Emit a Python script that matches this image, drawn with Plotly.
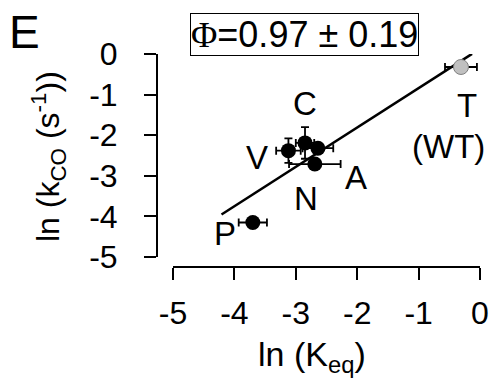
import plotly.graph_objects as go

# Data
labels = ["P", "V", "C", "A", "N"]
x_mut = [-3.70, -3.12, -2.85, -2.64, -2.69]
y_mut = [-4.15, -2.38, -2.19, -2.32, -2.71]
xerr_mut = [0.23, 0.20, 0.15, 0.25, 0.42]
yerr_mut = [0.05, 0.30, 0.39, 0.10, 0.12]

x_wt = [-0.31]
y_wt = [-0.32]
xerr_wt = [0.26]
yerr_wt = [0.05]

fit_slope = 0.97
fit_intercept = 0.13
fit_x = [-4.21, -0.13]
fit_y = [fit_slope * v + fit_intercept for v in fit_x]

tick_vals = [-5, -4, -3, -2, -1, 0]
tick_text = ["-5", "-4", "-3", "-2", "-1", "0"]

# label positions (data coords)
lab_text = ["P", "V", "C", "A", "N", "T", "(WT)"]
lab_x = [-4.15, -3.63, -2.85, -2.02, -2.83, -0.21, -0.52]
lab_y = [-4.41, -2.54, -1.21, -3.05, -3.55, -1.26, -2.29]

FONT = "Liberation Sans, Arial, sans-serif"

fig = go.Figure()
fig.add_trace(go.Scatter(
    x=fit_x, y=fit_y, mode="lines",
    line=dict(color="black", width=2.5), showlegend=False, hoverinfo="skip"))
fig.add_trace(go.Scatter(
    x=x_mut, y=y_mut, mode="markers",
    marker=dict(size=15, color="black"),
    error_x=dict(type="data", array=xerr_mut, color="black", thickness=1.8, width=4),
    error_y=dict(type="data", array=yerr_mut, color="black", thickness=1.8, width=4),
    showlegend=False))
fig.add_trace(go.Scatter(
    x=x_wt, y=y_wt, mode="markers",
    marker=dict(size=15, color="#c0c0c0", line=dict(color="#808080", width=1)),
    error_x=dict(type="data", array=xerr_wt, color="black", thickness=1.8, width=4),
    error_y=dict(type="data", array=yerr_wt, color="black", thickness=1.8, width=4),
    showlegend=False))

for t, lx, ly in zip(lab_text, lab_x, lab_y):
    fig.add_annotation(x=lx, y=ly, xref="x", yref="y", text=t, showarrow=False,
                       font=dict(family=FONT, size=33, color="black"),
                       xanchor="center", yanchor="middle")

W, H = 493, 383
ml, mr, mt, mb = 157, 13, 54, 116
pw = W - ml - mr
ph = H - mt - mb
x_start = (173 - ml) / pw
y_start = (267 - 257) / ph

axis_common = dict(
    range=[-5, 0], showgrid=False, zeroline=False, showline=True,
    linecolor="black", linewidth=2, ticks="outside", ticklen=12, tickwidth=2,
    tickcolor="black", tickvals=tick_vals, ticktext=tick_text,
    tickfont=dict(family=FONT, size=32, color="black"),
    fixedrange=True, automargin=False)

fig.update_layout(
    width=W, height=H, margin=dict(l=ml, r=mr, t=mt, b=mb, pad=0),
    plot_bgcolor="white", paper_bgcolor="white",
    xaxis=dict(domain=[x_start, 1], anchor="free", position=0, ticklabelstandoff=6, **axis_common),
    yaxis=dict(domain=[y_start, 1], anchor="free", position=0, ticklabelstandoff=20, **axis_common),
)

def px(xp):
    return (xp - ml) / pw

def py(yp):
    return (267 - yp) / ph

# axis titles
fig.add_annotation(x=px(312), y=py(356), xref="paper", yref="paper",
                   text="ln (K<sub>eq</sub>)", showarrow=False,
                   font=dict(family=FONT, size=34, color="black"),
                   xanchor="center", yanchor="middle")
fig.add_annotation(x=px(48), y=py(157), xref="paper", yref="paper",
                   text="ln (k<sub>CO</sub> (s<sup>-1</sup>))", showarrow=False, textangle=-90,
                   font=dict(family=FONT, size=32, color="black"),
                   xanchor="center", yanchor="middle")
# panel letter
fig.add_annotation(x=px(24), y=py(32), xref="paper", yref="paper",
                   text="E", showarrow=False,
                   font=dict(family=FONT, size=46, color="black"),
                   xanchor="center", yanchor="middle")
# phi box
fig.add_annotation(x=px(304.5), y=py(34.5), xref="paper", yref="paper",
                   text='<span style="font-family:Liberation Serif, Times New Roman, serif">Φ</span>=0.97 ± 0.19',
                   showarrow=False, font=dict(family=FONT, size=36, color="black"),
                   bordercolor="black", borderwidth=1, borderpad=0,
                   xanchor="center", yanchor="middle")

fig.write_html("out.html")
